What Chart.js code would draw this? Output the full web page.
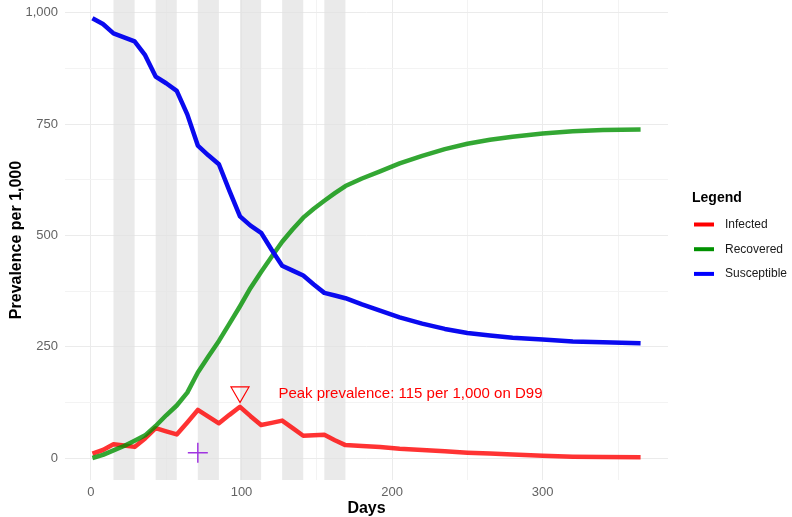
<!DOCTYPE html>
<html>
<head>
<meta charset="utf-8">
<title>Prevalence per 1,000</title>
<script src="https://cdn.jsdelivr.net/npm/chart.js@4.4.1/dist/chart.umd.min.js"></script>
<style>
    html, body { margin: 0; padding: 0; background: #ffffff; }
    #wrap { width: 792px; height: 517px; position: relative; }
</style>
</head>
<body>
<div id="wrap"><canvas id="sirChart"></canvas></div>
<script>
// ==============================
//  DATA
// ==============================

const days = [1, 8, 15, 22, 29, 36, 43, 50, 57, 64, 71, 78, 85, 92, 99, 106, 113, 120, 127, 134,
    141, 148, 155, 162, 169, 180, 192, 205, 220, 235, 250, 265, 280, 300, 320, 340, 365];

const infected = [10, 18, 31, 28, 25, 44, 67, 60, 53, 80, 108, 93, 78, 97, 115, 94, 74, 79, 84, 67,
    50, 51, 52, 40, 29, 27, 25, 21, 18, 15, 12, 10, 8, 5, 3, 2, 1.5];

const recovered = [0, 7, 17, 27, 39, 51, 72, 96, 118, 147, 192, 228, 263, 302, 341, 382, 418, 452, 486, 514,
    540, 560, 578, 595, 611, 628, 644, 662, 679, 694, 706, 715, 722, 729, 734, 737, 738];

const susceptible = [988, 975, 954, 945, 936, 905, 857, 842, 825, 772, 702, 680, 660, 600, 543, 522, 506, 468, 432, 421,
    410, 390, 371, 365, 359, 345, 331, 316, 302, 290, 281, 275, 270, 266, 262, 260, 258];

const seriesNames = ["Infected", "Recovered", "Susceptible"];

// shaded periods (start day, end day)
const bandStarts = [15, 43, 71, 99, 127, 155];
const bandEnds = [29, 57, 85, 113, 141, 169];

// annotation markers
const peakDay = 99;
const peakValue = 115;
const peakMarkerY = 148;
const peakLabelDay = 124.5;
const peakLabelY = 145;
const crossDay = 71;
const crossValue = 12;

// labelled ticks, plus the unlabelled minor grid positions
const yTicks = [0, 250, 500, 750, 1000];
const yGrid = [0, 125, 250, 375, 500, 625, 750, 875, 1000];
const xTicks = [0, 100, 200, 300];
const xGrid = [0, 50, 100, 150, 200, 250, 300, 350];

// ==============================
//  STYLES
// ==============================

const FONT = "'Liberation Sans', Arial, sans-serif";
const lineColors = ["rgba(255, 0, 0, 0.8)", "rgba(0, 145, 0, 0.8)", "#0a0aef"];
const keyColors = ["#ff0000", "#009100", "#0000ff"];
const TICK_COLOR = "#636363";

// ==============================
//  PLUGINS
// ==============================

// grey bands behind the lines
const bandsPlugin = {
    id: "bands",
    beforeDatasetsDraw(chart) {
        const { ctx, chartArea, scales } = chart;
        ctx.save();
        ctx.fillStyle = "rgba(225, 225, 225, 0.7)";
        for (let i = 0; i < bandStarts.length; i++) {
            const x0 = scales.x.getPixelForValue(bandStarts[i]);
            const x1 = scales.x.getPixelForValue(bandEnds[i]);
            ctx.fillRect(x0, chartArea.top, x1 - x0, chartArea.bottom - chartArea.top);
        }
        ctx.restore();
    }
};

// peak text + custom legend at the right
const labelsPlugin = {
    id: "labels",
    afterDraw(chart) {
        const { ctx, scales } = chart;
        ctx.save();

        // annotation text
        ctx.fillStyle = "#ff0000";
        ctx.font = "15px " + FONT;
        ctx.textAlign = "left";
        ctx.textBaseline = "middle";
        ctx.fillText(`Peak prevalence: ${peakValue} per 1,000 on D${peakDay}`,
            scales.x.getPixelForValue(peakLabelDay), scales.y.getPixelForValue(peakLabelY));

        // legend
        const left = 692;
        ctx.fillStyle = "#000000";
        ctx.font = "bold 14px " + FONT;
        ctx.fillText("Legend", left, 198);

        ctx.font = "12px " + FONT;
        for (let i = 0; i < seriesNames.length; i++) {
            const y = 224.5 + i * 24.7;
            ctx.strokeStyle = keyColors[i];
            ctx.lineWidth = 4;
            ctx.beginPath();
            ctx.moveTo(left + 2, y);
            ctx.lineTo(left + 22, y);
            ctx.stroke();
            ctx.fillStyle = "#1a1a1a";
            ctx.fillText(seriesNames[i], left + 33, y);
        }
        ctx.restore();
    }
};

// ==============================
//  CHART
// ==============================

function toPoints(values) {
    return values.map((v, i) => ({ x: days[i], y: v }));
}

const lineDatasets = [infected, recovered, susceptible].map((values, i) => ({
    label: seriesNames[i],
    data: toPoints(values),
    borderColor: lineColors[i],
    borderWidth: 4.5,
    pointRadius: 0,
    tension: 0,
    borderJoinStyle: "round",
    borderCapStyle: "butt",
    order: 3 - i
}));

new Chart(document.getElementById("sirChart"), {
    type: "line",
    data: {
        datasets: [
            ...lineDatasets,
            {
                label: "peak",
                type: "scatter",
                data: [{ x: peakDay, y: peakMarkerY }],
                pointStyle: "triangle",
                rotation: 180,
                radius: 10.4,
                backgroundColor: "rgba(0,0,0,0)",
                borderColor: "#ff0000",
                borderWidth: 1.2,
                order: 0
            },
            {
                label: "start",
                type: "scatter",
                data: [{ x: crossDay, y: crossValue }],
                pointStyle: "cross",
                radius: 10,
                backgroundColor: "#a035e0",
                borderColor: "#a035e0",
                borderWidth: 1.5,
                order: 0
            }
        ]
    },
    options: {
        responsive: true,
        maintainAspectRatio: false,
        animation: false,
        // the markers would otherwise push the plot area down
        layout: { autoPadding: false, padding: { left: 0, right: 124, top: 0, bottom: 0 } },
        plugins: {
            legend: { display: false },
            tooltip: { enabled: false }
        },
        scales: {
            x: {
                type: "linear",
                min: -17.2,
                max: 383.2,
                border: { display: false },
                grid: {
                    drawTicks: false,
                    color: (c) => (c.tick && c.tick.value % 100 === 0 ? "#ebebeb" : "#f3f3f3")
                },
                ticks: {
                    padding: 5,
                    maxRotation: 0,
                    autoSkip: false,
                    color: TICK_COLOR,
                    font: { family: FONT, size: 13 },
                    callback: (v) => (xTicks.includes(v) ? String(v) : "")
                },
                afterBuildTicks(scale) {
                    scale.ticks = xGrid.map((v) => ({ value: v }));
                },
                title: {
                    display: true,
                    text: "Days",
                    color: "#000000",
                    font: { family: FONT, size: 16, weight: "bold", lineHeight: 1 },
                    padding: { top: 0, bottom: 0 }
                },
                afterFit(scale) {
                    scale.height = 37;
                    scale.paddingLeft = 0;
                    scale.paddingRight = 0;
                }
            },
            y: {
                min: -49.4,
                max: 1029,
                border: { display: false },
                grid: {
                    drawTicks: false,
                    color: (c) => (c.tick && c.tick.value % 250 === 0 ? "#ebebeb" : "#f3f3f3")
                },
                ticks: {
                    padding: 7,
                    autoSkip: false,
                    color: TICK_COLOR,
                    font: { family: FONT, size: 13 },
                    callback: (v) => (yTicks.includes(v) ? v.toLocaleString("en-US") : "")
                },
                afterBuildTicks(scale) {
                    scale.ticks = yGrid.map((v) => ({ value: v }));
                },
                title: {
                    display: true,
                    text: "Prevalence per 1,000",
                    color: "#000000",
                    font: { family: FONT, size: 16, weight: "bold" },
                    padding: { top: 6.5, bottom: 0 }
                },
                afterFit(scale) {
                    scale.width = 65;
                    scale.paddingTop = 0;
                    scale.paddingBottom = 0;
                }
            }
        }
    },
    plugins: [bandsPlugin, labelsPlugin]
});
</script>
</body>
</html>
